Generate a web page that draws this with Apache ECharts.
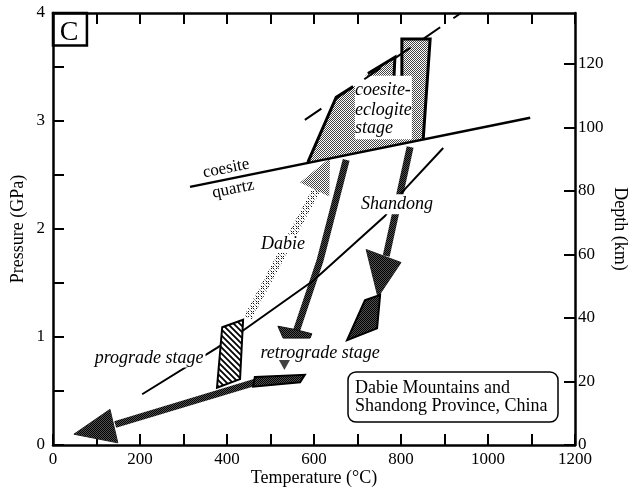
<!DOCTYPE html>
<html><head><meta charset="utf-8">
<script src="https://cdn.jsdelivr.net/npm/echarts@6/dist/echarts.min.js"></script>
<style>html,body{margin:0;padding:0;background:#fff}#c{width:631px;height:492px}</style>
</head><body><div id="c"></div>
<script>
// ---- axis ticks / labels ----
const tempLabels = [0,200,400,600,800,1000,1200];
const tempTicks = [0,100,200,300,400,500,600,700,800,900,1000,1100,1200];
const pressLabels = [0,1,2,3,4];
const pressTicks = [0,0.5,1,1.5,2,2.5,3,3.5,4];
const depthLabels = [0,20,40,60,80,100,120];

// ---- lines (T in °C, P in GPa) ----
const coesiteQuartz = [[315,2.39],[1097,3.03]];
const reactionCurve = [[205,0.47],[377,0.90],[437,1.06],[598,1.52],[763,2.12],[809,2.37],[897,2.75]];
const dashedBoundary = [[579,3.01],[938,4.00]];

// ---- coesite-eclogite (peak) field ----
const peakField = [[586,2.62],[651,3.22],[690,3.32],[724,3.44],[786,3.59],[784,3.42],[802,3.42],[802,3.76],[867,3.76],[851,2.83]];
const peakEdgeA = [[586,2.62],[651,3.22],[690,3.32]];
const peakEdgeB = [[724,3.44],[786,3.59],[784,3.42]];
const peakEdgeC = [[802,3.42],[802,3.76],[867,3.76],[851,2.83]];
const peakLabelMask = [[694,3.42],[825,3.42],[825,2.83],[694,2.83]];

// ---- prograde stage ----
const progradeBox = [[389,1.09],[437,1.16],[430,0.61],[377,0.53]];
const dabieProShaft = [[448,1.18],[605,2.36]];
const dabieProHead = [[568,2.43],[637,2.66],[635,2.30]];

// ---- Dabie retrograde ----
const dabieRetShaft = [[674,2.64],[614,1.71],[559,1.05]];
const dabieRetBase = [[517,1.10],[556,1.07],[595,1.03],[591,0.99],[529,0.99]];

// ---- Shandong retrograde ----
const shanRetShaft = [[821,2.76],[766,1.75]];
const shanRetHead = [[720,1.81],[800,1.69],[747,1.37]];
const shanRetBox = [[717,1.34],[752,1.39],[745,1.08],[676,0.97]];

// ---- late exhumation ----
const lateBox = [[464,0.63],[579,0.65],[568,0.58],[460,0.54]];
const lateShaft = [[464,0.58],[143,0.19]];
const lateHead = [[131,0.33],[48,0.10],[149,0.02]];
const retroMarker = [[532,0.74]];

// ---- panel box ----
const panelBox = [[0,4],[78,4],[78,3.70],[0,3.70]];

// ---- patterns ----
function makePattern(w,h,draw){const c=document.createElement('canvas');c.width=w;c.height=h;const ctx=c.getContext('2d');draw(ctx);return {image:c,repeat:'repeat'};}
const lightStipple = makePattern(2,2,ctx=>{ctx.fillStyle='#fff';ctx.fillRect(0,0,2,2);ctx.fillStyle='#444';ctx.fillRect(0,0,1,1);ctx.fillRect(1,1,1,1);});
const darkStipple = makePattern(2,2,ctx=>{ctx.fillStyle='#505050';ctx.fillRect(0,0,2,2);ctx.fillStyle='#000';ctx.fillRect(0,0,1,1);ctx.fillRect(1,1,1,1);});
const hatch = makePattern(6,6,ctx=>{ctx.fillStyle='#fff';ctx.fillRect(0,0,6,6);ctx.strokeStyle='#000';ctx.lineWidth=1.8;ctx.beginPath();ctx.moveTo(-1,-1);ctx.lineTo(7,7);ctx.moveTo(-4,2);ctx.lineTo(4,10);ctx.moveTo(2,-4);ctx.lineTo(10,4);ctx.stroke();});
const crossPat = makePattern(5,5,ctx=>{ctx.fillStyle='#fff';ctx.fillRect(0,0,5,5);ctx.fillStyle='#999';ctx.fillRect(0,0,1,1);ctx.fillRect(2,2,1,1);ctx.fillRect(4,4,1,1);ctx.fillStyle='#111';ctx.fillRect(1,1,1,1);ctx.fillRect(3,3,1,1);ctx.fillRect(3,1,1,1);ctx.fillRect(1,3,1,1);});

const FONT = '"Liberation Serif", "Times New Roman", serif';

function cs(render){return {type:'custom',coordinateSystem:'cartesian2d',xAxisIndex:0,yAxisIndex:0,data:[[0,0]],renderItem:render,silent:true,clip:false,animation:false};}
function polygon(pts,style){return cs((p,api)=>({type:'polygon',shape:{points:pts.map(q=>api.coord(q))},style:style}));}
function polyline(pts,style){return cs((p,api)=>({type:'polyline',shape:{points:pts.map(q=>api.coord(q))},style:Object.assign({fill:null},style)}));}
function label(pt,text,o){return cs((p,api)=>{const c=api.coord(pt);return {type:'text',x:c[0],y:c[1],rotation:o.rot||0,style:{text:text,font:o.font,fill:'#000',align:o.align||'center',verticalAlign:'middle',backgroundColor:o.bg||null,padding:o.pad||0}};});}

const rotCQ = 11.5*Math.PI/180;

const series = [
  polygon(peakField,{fill:lightStipple}),
  polygon(peakLabelMask,{fill:'#fff'}),
  polyline(peakEdgeA,{stroke:'#000',lineWidth:3,lineJoin:'miter'}),
  polyline(peakEdgeB,{stroke:'#000',lineWidth:3,lineJoin:'miter'}),
  polyline(peakEdgeC,{stroke:'#000',lineWidth:3,lineJoin:'miter'}),
  polyline(dashedBoundary,{stroke:'#000',lineWidth:2,lineDash:[20,16]}),
  polyline(dabieProShaft,{stroke:crossPat,lineWidth:8}),
  polygon(dabieProHead,{fill:lightStipple}),
  polyline(dabieRetShaft,{stroke:darkStipple,lineWidth:7}),
  polygon(dabieRetBase,{fill:darkStipple,stroke:'#111',lineWidth:1}),
  polyline(shanRetShaft,{stroke:darkStipple,lineWidth:7}),
  polygon(shanRetHead,{fill:darkStipple,stroke:'#222',lineWidth:1}),
  polygon(shanRetBox,{fill:darkStipple,stroke:'#000',lineWidth:2}),
  polyline(lateShaft,{stroke:darkStipple,lineWidth:7}),
  polygon(lateHead,{fill:darkStipple,stroke:'#222',lineWidth:1}),
  polygon(lateBox,{fill:darkStipple,stroke:'#000',lineWidth:2}),
  polyline(reactionCurve,{stroke:'#000',lineWidth:2}),
  polyline(coesiteQuartz,{stroke:'#000',lineWidth:2.5}),
  polygon(progradeBox,{fill:hatch,stroke:'#000',lineWidth:2}),
  {type:'scatter',data:retroMarker,symbol:'triangle',symbolRotate:180,symbolSize:[11,10],itemStyle:{color:'#111'},silent:true,animation:false},
  polygon(panelBox,{fill:null,stroke:'#000',lineWidth:2.5}),
  label([37,3.82],'C',{font:'28px '+FONT}),
  label([398,2.56],'coesite',{font:'17px '+FONT,rot:rotCQ}),
  label([414,2.37],'quartz',{font:'17px '+FONT,rot:rotCQ}),
  label([694,3.28],'coesite-',{font:'italic 18px '+FONT,align:'left'}),
  label([694,3.10],'eclogite',{font:'italic 18px '+FONT,align:'left'}),
  label([694,2.93],'stage',{font:'italic 18px '+FONT,align:'left'}),
  label([529,1.86],'Dabie',{font:'italic 18px '+FONT,bg:'#fff',pad:[0,2]}),
  label([791,2.23],'Shandong',{font:'italic 18px '+FONT,bg:'#fff',pad:[1,2]}),
  label([221,0.80],'prograde stage',{font:'italic 18px '+FONT,bg:'#fff',pad:[0,2]}),
  label([614,0.85],'retrograde stage',{font:'italic 18px '+FONT})
];

const axisLineStyle = {onZero:false,lineStyle:{color:'#000',width:2.5}};
const tickStyle = {inside:true,length:11,lineStyle:{color:'#000',width:2}};
const labelStyle = {color:'#000',fontFamily:FONT,fontSize:17,formatter:v=>String(v)};
const nameStyle = {color:'#000',fontFamily:FONT,fontSize:18};

const option = {
  backgroundColor:'#fff',
  animation:false,
  grid:{left:53,right:56,top:13,bottom:47,containLabel:false,outerBoundsMode:'none'},
  xAxis:[
    {type:'value',position:'bottom',min:0,max:1200,interval:100,
     name:'Temperature (°C)',nameLocation:'middle',nameGap:24,nameMoveOverlap:false,
     nameTextStyle:nameStyle,
     axisLine:axisLineStyle,axisTick:Object.assign({customValues:tempTicks},tickStyle),
     axisLabel:Object.assign({customValues:tempLabels,margin:6},labelStyle),splitLine:{show:false}},
    {type:'value',position:'top',min:0,max:1200,interval:100,
     axisLine:axisLineStyle,axisTick:Object.assign({customValues:tempTicks},tickStyle),
     axisLabel:{show:false},splitLine:{show:false}}
  ],
  yAxis:[
    {type:'value',position:'left',min:0,max:4,interval:0.5,
     name:'Pressure (GPa)',nameLocation:'middle',nameGap:26,nameMoveOverlap:false,
     nameTextStyle:nameStyle,
     axisLine:axisLineStyle,axisTick:Object.assign({customValues:pressTicks},tickStyle),
     axisLabel:Object.assign({customValues:pressLabels,margin:8},labelStyle),splitLine:{show:false}},
    {type:'value',position:'right',min:0,max:136,
     name:'Depth (km)',nameLocation:'middle',nameGap:36,nameRotate:-90,nameMoveOverlap:false,
     nameTextStyle:nameStyle,
     axisLine:axisLineStyle,axisTick:Object.assign({customValues:depthLabels},tickStyle),
     axisLabel:Object.assign({customValues:depthLabels,margin:3},labelStyle),splitLine:{show:false}}
  ],
  graphic:[
    {type:'rect',shape:{x:348,y:372,width:210,height:50,r:8},style:{fill:'#fff',stroke:'#000',lineWidth:1.5},z:100},
    {type:'text',x:355,y:388,style:{text:'Dabie Mountains and',font:'18px '+FONT,fill:'#000',verticalAlign:'middle'},z:101},
    {type:'text',x:355,y:406,style:{text:'Shandong Province, China',font:'18px '+FONT,fill:'#000',verticalAlign:'middle'},z:101}
  ],
  series:series
};

const chart = echarts.init(document.getElementById('c'),null,{renderer:'canvas'});
chart.setOption(option);
</script></body></html>
